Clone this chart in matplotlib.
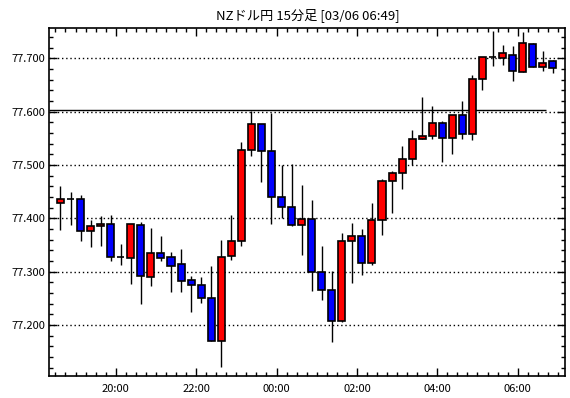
import numpy as np
import matplotlib.pyplot as plt
from matplotlib.ticker import MultipleLocator, FixedLocator

plt.rcParams['font.family'] = ['Noto Sans CJK JP', 'DejaVu Sans']

# NZドル円 15分足 (18:30 - 06:45)
opens = [77.429, 77.437, 77.436, 77.377, 77.385, 77.389, 77.328, 77.326, 77.387, 77.289,
         77.334, 77.327, 77.314, 77.284, 77.275, 77.251, 77.170, 77.329, 77.358, 77.528,
         77.576, 77.526, 77.440, 77.422, 77.388, 77.398, 77.299, 77.265, 77.207, 77.358,
         77.366, 77.317, 77.396, 77.470, 77.485, 77.511, 77.549, 77.554, 77.579, 77.550,
         77.593, 77.558, 77.661, 77.702, 77.700, 77.707, 77.674, 77.726, 77.684, 77.694]
highs = [77.461, 77.449, 77.444, 77.397, 77.404, 77.406, 77.352, 77.389, 77.393, 77.382,
         77.366, 77.337, 77.343, 77.291, 77.289, 77.311, 77.359, 77.407, 77.543, 77.601,
         77.576, 77.597, 77.500, 77.502, 77.463, 77.434, 77.348, 77.302, 77.373, 77.391,
         77.380, 77.428, 77.473, 77.489, 77.536, 77.566, 77.628, 77.611, 77.582, 77.593,
         77.620, 77.669, 77.702, 77.751, 77.724, 77.723, 77.750, 77.728, 77.714, 77.697]
lows = [77.378, 77.388, 77.358, 77.347, 77.348, 77.319, 77.312, 77.277, 77.239, 77.273,
        77.320, 77.262, 77.261, 77.225, 77.242, 77.170, 77.122, 77.322, 77.348, 77.516,
        77.468, 77.389, 77.401, 77.386, 77.332, 77.263, 77.246, 77.168, 77.206, 77.278,
        77.293, 77.313, 77.369, 77.410, 77.455, 77.500, 77.549, 77.549, 77.506, 77.521,
        77.548, 77.546, 77.641, 77.686, 77.688, 77.658, 77.674, 77.684, 77.676, 77.673]
closes = [77.436, 77.437, 77.377, 77.385, 77.389, 77.328, 77.328, 77.389, 77.291, 77.334,
          77.326, 77.311, 77.283, 77.274, 77.250, 77.170, 77.327, 77.358, 77.528, 77.576,
          77.526, 77.440, 77.422, 77.388, 77.398, 77.299, 77.265, 77.207, 77.358, 77.366,
          77.317, 77.396, 77.470, 77.485, 77.511, 77.548, 77.555, 77.579, 77.550, 77.593,
          77.558, 77.661, 77.702, 77.702, 77.709, 77.676, 77.728, 77.684, 77.691, 77.681]
start_min = 18 * 60 + 30
ref_price = 77.603

n = len(opens)
x = np.arange(n)
o = np.array(opens)
c = np.array(closes)
colors = ['#ff0000' if cc > oo else ('#0000ff' if cc < oo else 'black') for oo, cc in zip(o, c)]

fig = plt.figure(figsize=(5.7, 3.98), dpi=100)
ax = fig.add_axes([0.086, 0.055, 0.905, 0.875])

ax.vlines(x, lows, highs, color='black', linewidth=1, zorder=2)
ax.bar(x, c - o, bottom=o, width=0.7, color=colors, edgecolor='black', linewidth=1.2, zorder=3)
ax.hlines(ref_price, -1.14, 48.3, color='black', linewidth=1, zorder=2)

ax.set_xlim(-1.14, 50.2)
ax.set_ylim(77.104, 77.757)

# time ticks on candle boundaries
minutes = [(start_min + 15 * i) % (24 * 60) for i in range(n + 1)]
bounds = x.tolist() + [n]
major = [b - 0.5 for b, m in zip(bounds, minutes) if m % 120 == 0]
labels = ['%02d:00' % (m // 60) for m in minutes if m % 120 == 0]
ax.xaxis.set_major_locator(FixedLocator(major))
ax.set_xticklabels(labels)
ax.xaxis.set_minor_locator(FixedLocator([b - 0.5 for b in bounds]))

ax.yaxis.set_major_locator(MultipleLocator(0.1))
ax.yaxis.set_minor_locator(MultipleLocator(0.02))
ax.yaxis.set_major_formatter(plt.FormatStrFormatter('%.3f'))

ax.tick_params(which='both', direction='in', top=True, right=True, labelsize=8, pad=3)
ax.tick_params(which='major', length=6, width=1)
ax.tick_params(which='minor', length=3, width=1)
ax.tick_params(axis='x', pad=6)
ax.grid(axis='y', which='major', linestyle=(0, (1, 2)), color='black', linewidth=1)
for s in ax.spines.values():
    s.set_linewidth(1.2)

fig.text(0.54, 0.963, 'NZドル円 15分足 [03/06 06:49]', ha='center', va='center', fontsize=9.5)

fig.savefig('out.png', dpi=100)
